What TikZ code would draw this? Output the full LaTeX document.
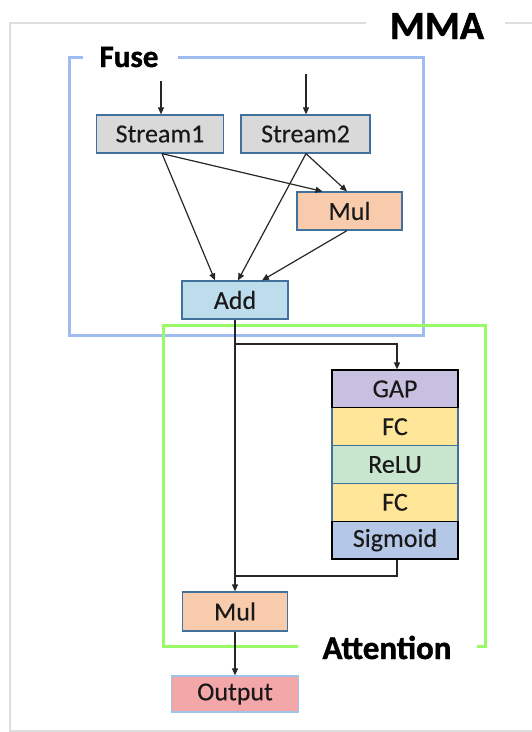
\documentclass[tikz,border=0pt]{standalone}
\usepackage{fontspec}
\setmainfont{Carlito}
\newfontfamily\headfont[FakeBold=1.2]{Carlito Bold}
\newfontfamily\labelfont[FakeBold=0.25]{Carlito}
\usetikzlibrary{arrows.meta}

\definecolor{frame}{RGB}{222,222,222}
\definecolor{fuseline}{RGB}{158,188,242}
\definecolor{attline}{RGB}{153,250,102}
\definecolor{boxline}{RGB}{65,113,156}
\definecolor{streamfill}{RGB}{217,217,217}
\definecolor{mulfill}{RGB}{248,203,173}
\definecolor{addfill}{RGB}{189,221,237}
\definecolor{gapfill}{RGB}{200,192,225}
\definecolor{fcfill}{RGB}{255,230,153}
\definecolor{relufill}{RGB}{200,230,205}
\definecolor{sigfill}{RGB}{180,199,231}
\definecolor{outfill}{RGB}{244,167,168}
\definecolor{outline}{RGB}{157,195,230}

\begin{document}
\begin{tikzpicture}[x=1pt,y=-1pt,
  box/.style={draw=boxline, line width=1.2pt, minimum height=38pt, inner sep=0pt,
    font=\labelfont\fontsize{26}{30}\selectfont, text=black!90},
  layer/.style={box, minimum width=126pt, minimum height=37.8pt},
  arr/.style={-{Triangle[length=7pt,width=6pt]}, line width=1.2pt, draw=black!85},
  link/.style={line width=1.2pt, draw=black!85},
  title/.style={font=\headfont\fontsize{#1}{#1}\selectfont, anchor=base}]

\useasboundingbox (0,0) rectangle (531,732);

% group frames with gaps for their titles
\draw[frame, line width=2.6pt] (366,23) -- (10,23) -- (10,731) -- (545,731) -- (545,23) -- (505,23);
\node[title=40] (mma) at (437,39) {MMA};

\draw[fuseline, line width=3pt] (83,57.5) -- (69,57.5) -- (69,335) -- (423,335) -- (423,57.5) -- (178,57.5);
\node[title=31] (fuse) at (129,67) {Fuse};

\draw[attline, line width=3pt] (298,646) -- (163,646) -- (163,325) -- (485,325) -- (485,646) -- (477,646);
\node[title=33] (att) at (387,659) {Attention};

% fusion stage
\node[box, fill=streamfill, minimum width=127pt] (s1) at (160,134) {Stream1};
\node[box, fill=streamfill, minimum width=129pt] (s2) at (305.5,134) {Stream2};
\node[box, fill=mulfill, minimum width=105pt] (mul1) at (349.5,211) {Mul};
\node[box, fill=addfill, minimum width=106pt] (add) at (235,300) {Add};

% attention branch layers
\node[layer, fill=fcfill] (fc1) at (395,426.7) {FC};
\node[layer, fill=relufill] (relu) at (395,464.5) {ReLU};
\node[layer, fill=fcfill] (fc2) at (395,502.3) {FC};
\node[layer, fill=gapfill, draw=black] (gap) at (395,388.9) {GAP};
\node[layer, fill=sigfill, draw=black] (sig) at (395,540.1) {Sigmoid};

\node[box, fill=mulfill, minimum width=105pt, minimum height=39pt] (mul2) at (235,611.5) {Mul};
\node[box, fill=outfill, draw=outline, minimum width=127pt, minimum height=36pt] (out) at (235,694) {Output};

% inputs
\coordinate (in1) at (161,81);
\coordinate (in2) at (306,74);
\draw[arr] (in1) -- (in1 |- s1.north);
\draw[arr] (in2) -- (in2 |- s2.north);

% fusion connectors
\draw[arr] ([xshift=2pt]s1.south) -- ([xshift=-27pt]mul1.north);
\draw[arr] ([xshift=2pt]s1.south) -- ([xshift=-20pt]add.north);
\draw[arr] ([xshift=0.5pt]s2.south) -- ([xshift=3pt]add.north);
\draw[arr] ([xshift=0.5pt]s2.south) -- ([xshift=-2.5pt]mul1.north);
\draw[arr] ([xshift=-2.5pt]mul1.south) -- ([xshift=27pt]add.north);

% attention connectors
\coordinate (br) at (235,344);
\coordinate (jn) at (235,576);
\draw[arr] (add.south) -- (mul2.north);
\draw[arr] (br) -| ([xshift=2pt]gap.north);
\draw[link] ([xshift=2pt]sig.south) |- (jn);
\draw[arr] (mul2.south) -- (out.north);
\end{tikzpicture}
\end{document}
